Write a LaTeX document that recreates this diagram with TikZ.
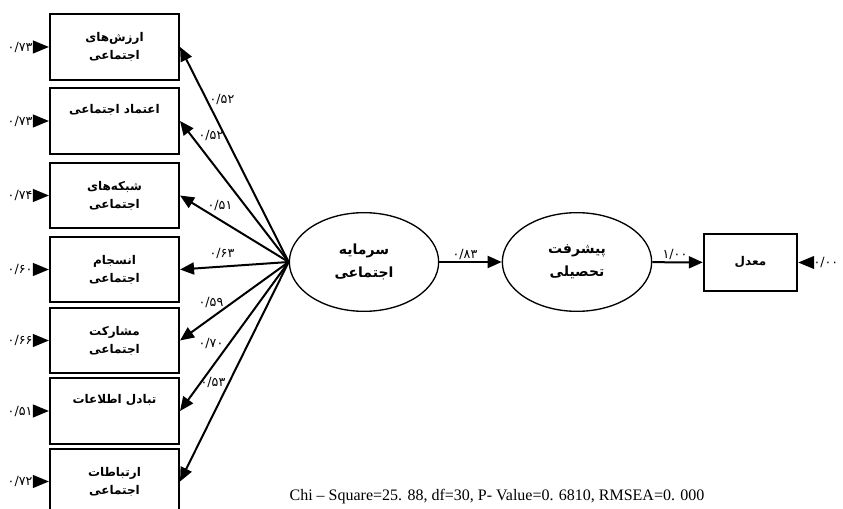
\documentclass[tikz,border=0pt]{standalone}
\usepackage{fontspec}
\usetikzlibrary{positioning,shapes.geometric,arrows.meta}
\TeXXeTstate=1
\newfontfamily\arabicfont[Script=Arabic]{DejaVu Sans}
\newfontfamily\statfont{Liberation Serif}
\newcommand{\fa}[1]{\beginR#1\endR}

\tikzset{
  obsbox/.style={draw, line width=1.5pt, minimum width=96.8pt, minimum height=48.8pt,
    align=center, font=\arabicfont\bfseries\fontsize{9}{13.5}\selectfont},
  latent/.style={draw, ellipse, line width=1pt, minimum width=112pt, minimum height=74pt,
    inner sep=0pt, align=center, font=\arabicfont\bfseries\fontsize{10.5}{17}\selectfont},
  coef/.style={font=\arabicfont\fontsize{9.5}{10}\selectfont, inner sep=1pt},
  load/.style={-{Triangle[length=10.5pt,width=9pt]}, line width=1.5pt},
  errtip/.style={-{Triangle[length=12pt,width=9.5pt]}, line width=1.5pt, shorten <=-1pt}
}

\begin{document}
\begin{tikzpicture}[x=0.75pt,y=-0.75pt]
    \useasboundingbox (0,0) rectangle (843,509);
    \clip (0,0) rectangle (843,509);

    % indicators of social capital
    \node[obsbox] (b1) at (114.5,47)    {\fa{ارزش‌های}\\\fa{اجتماعی}};
    \node[obsbox] (b2) at (114.5,121)   {\fa{اعتماد اجتماعی}\\\strut};
    \node[obsbox] (b3) at (114.5,195.5) {\fa{شبکه‌های}\\\fa{اجتماعی}};
    \node[obsbox] (b4) at (114.5,269.5) {\fa{انسجام}\\\fa{اجتماعی}};
    \node[obsbox] (b5) at (114.5,340.5) {\fa{مشارکت}\\\fa{اجتماعی}};
    \node[obsbox] (b6) at (114.5,411)   {\fa{تبادل اطلاعات}\\\strut};
    \node[obsbox] (b7) at (114.5,481.5) {\fa{ارتباطات}\\\fa{اجتماعی}};

    % latent variables and outcome
    \node[latent] (sc)  at (364,262) {\fa{سرمایه}\\\fa{اجتماعی}};
    \node[latent] (ach) at (577,262) {\fa{پیشرفت}\\\fa{تحصیلی}};
    \node[obsbox, minimum width=70pt, minimum height=43pt] (gpa) at (750.5,262.5) {\fa{معدل}};

    % error terms
    \node[coef, anchor=east] (e1) at (34,47)    {۰/۷۳};
    \node[coef, anchor=east] (e2) at (34,121)   {۰/۷۳};
    \node[coef, anchor=east] (e3) at (34,195.5) {۰/۷۴};
    \node[coef, anchor=east] (e4) at (34,269.5) {۰/۶۰};
    \node[coef, anchor=east] (e5) at (34,340.5) {۰/۶۶};
    \node[coef, anchor=east] (e6) at (34,411)   {۰/۵۱};
    \node[coef, anchor=east] (e7) at (34,481.5) {۰/۷۲};
    \node[coef, anchor=west] (eg) at (812,262.5) {۰/۰۰};

    \draw[errtip] (e1) -- (b1);
    \draw[errtip] (e2) -- (b2);
    \draw[errtip] (e3) -- (b3);
    \draw[errtip] (e4) -- (b4);
    \draw[errtip] (e5) -- (b5);
    \draw[errtip] (e6) -- (b6);
    \draw[errtip] (e7) -- (b7);
    \draw[errtip] (eg) -- (gpa);

    % loadings
    \draw[load] (sc.west) -- (b1.east);
    \draw[load] (sc.west) -- (b2.east);
    \draw[load] (sc.west) -- (b3.east);
    \draw[load] (sc.west) -- (b4.east);
    \draw[load] (sc.west) -- (b5.east);
    \draw[load] (sc.west) -- (b6.east);
    \draw[load] (sc.west) -- (b7.east);
    \draw[load] (sc) -- (ach);
    \draw[load] (ach) -- (gpa);

    \node[coef] (w1) at (222,99)  {۰/۵۲};
    \node[coef] (w2) at (211,135) {۰/۵۲};
    \node[coef] (w3) at (220,205) {۰/۵۱};
    \node[coef] (w4) at (222,253) {۰/۶۳};
    \node[coef] (w5) at (211,302) {۰/۵۹};
    \node[coef] (w6) at (211,343) {۰/۷۰};
    \node[coef] (w7) at (213,382) {۰/۵۳};
    \node[coef] (w8) at (465,254) {۰/۸۳};
    \node[coef] (w9) at (675,254) {۱/۰۰};

    \node[font=\statfont\fontsize{12}{14}\selectfont] (fit) at (497,497)
      {Chi – Square=25. 88, df=30, P- Value=0. 6810, RMSEA=0. 000};
\end{tikzpicture}
\end{document}
